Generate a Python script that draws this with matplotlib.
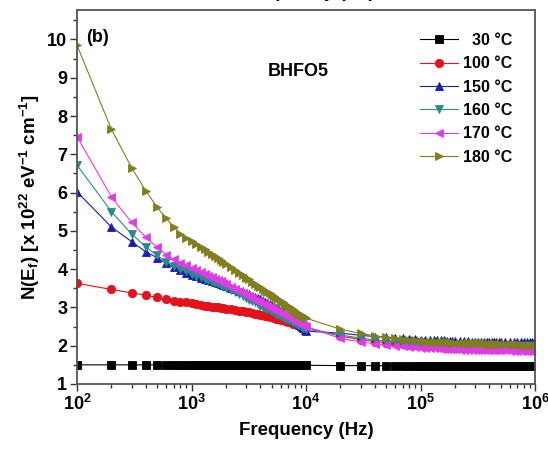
import matplotlib
matplotlib.use("Agg")
import matplotlib.pyplot as plt
import numpy as np
from matplotlib.ticker import FixedLocator, MultipleLocator, LogLocator, NullFormatter

plt.rcParams["font.family"] = ["Liberation Sans", "DejaVu Sans"]
plt.rcParams["font.weight"] = "bold"
plt.rcParams["mathtext.fontset"] = "custom"
plt.rcParams["mathtext.rm"] = "Liberation Sans:bold"
plt.rcParams["mathtext.bf"] = "Liberation Sans:bold"
plt.rcParams["mathtext.it"] = "Liberation Sans:bold:italic"
plt.rcParams["mathtext.default"] = "bf"

# frequency sweep (Hz)
freq_low = [100, 200, 300, 400, 500, 600, 700, 800, 900, 1000,
            1100, 1200, 1300, 1400, 1500, 1600, 1700, 1800, 1900, 2000,
            2200, 2400, 2600, 2800, 3000, 3200, 3400, 3600, 3800, 4000,
            4200, 4400, 4600, 4800, 5000,
            5250, 5500, 5750, 6000, 6250, 6500, 6750, 7000, 7250, 7500,
            7750, 8000, 8250, 8500, 8750, 9000, 9250, 9500, 9750, 10000]
freq_high = [20000, 30000, 40000, 50000, 60000, 70000, 80000, 90000, 100000,
             110000, 120000, 130000, 140000, 150000, 160000, 170000, 180000, 190000, 200000,
             220000, 240000, 260000, 280000, 300000, 320000, 340000, 360000,
             380000, 400000, 420000, 440000, 460000, 480000, 500000,
             550000, 600000, 650000, 700000, 750000, 800000, 850000, 900000,
             950000, 1000000]

# N(Ef) in units of 1e22 eV^-1 cm^-1
n30_low = [1.50] * 10 + [1.49] * 45
n30_high = [1.48] * 44

n100_low = [3.63, 3.47, 3.38, 3.32, 3.26, 3.21, 3.18, 3.15, 3.13, 3.11,
            3.09, 3.07, 3.05, 3.04, 3.02, 3.01, 3.00, 2.99, 2.98, 2.97,
            2.95, 2.93, 2.91, 2.90, 2.88, 2.87, 2.85, 2.84, 2.82, 2.81,
            2.80, 2.78, 2.77, 2.76, 2.74,
            2.73, 2.71, 2.70, 2.68, 2.67, 2.65, 2.64, 2.62, 2.61, 2.60,
            2.58, 2.57, 2.56, 2.55, 2.53, 2.52, 2.51, 2.50, 2.49, 2.48]
n100_high = [2.25, 2.16, 2.11, 2.08, 2.06, 2.04, 2.03, 2.02, 2.01,
             2.00, 2.00, 1.99, 1.99, 1.99, 1.98, 1.98, 1.98, 1.97, 1.97,
             1.97, 1.96, 1.96, 1.96, 1.96, 1.95, 1.95, 1.95, 1.95, 1.95,
             1.94, 1.94, 1.94, 1.94, 1.94,
             1.94, 1.94, 1.93, 1.93, 1.93, 1.93, 1.93, 1.93, 1.93, 1.93]

n150_low = [6.02, 5.10, 4.72, 4.45, 4.30, 4.15, 4.05, 3.97, 3.91, 3.86,
            3.82, 3.78, 3.75, 3.72, 3.69, 3.66, 3.63, 3.61, 3.58, 3.56,
            3.52, 3.48, 3.44, 3.41, 3.38, 3.34, 3.31, 3.28, 3.24, 3.21,
            3.18, 3.14, 3.11, 3.08, 3.05,
            3.02, 2.98, 2.95, 2.91, 2.88, 2.84, 2.81, 2.78, 2.75, 2.71,
            2.68, 2.65, 2.62, 2.59, 2.55, 2.52, 2.48, 2.45, 2.41, 2.38]
n150_high = [2.33, 2.27, 2.24, 2.22, 2.20, 2.19, 2.18, 2.17, 2.16,
             2.16, 2.15, 2.15, 2.14, 2.14, 2.14, 2.13, 2.13, 2.13, 2.12,
             2.12, 2.12, 2.12, 2.11, 2.11, 2.11, 2.11, 2.11, 2.10, 2.10,
             2.10, 2.10, 2.10, 2.10, 2.10,
             2.10, 2.09, 2.09, 2.09, 2.09, 2.09, 2.09, 2.09, 2.09, 2.09]

n160_low = [6.72, 5.50, 4.92, 4.58, 4.36, 4.20, 4.09, 4.01, 3.94, 3.88,
            3.83, 3.79, 3.75, 3.71, 3.67, 3.64, 3.61, 3.58, 3.55, 3.52,
            3.46, 3.40, 3.34, 3.29, 3.25, 3.20, 3.16, 3.13, 3.09, 3.05,
            3.02, 2.99, 2.96, 2.93, 2.91,
            2.87, 2.84, 2.81, 2.78, 2.76, 2.73, 2.70, 2.68, 2.66, 2.63,
            2.61, 2.59, 2.57, 2.55, 2.53, 2.51, 2.49, 2.47, 2.46, 2.44]
n160_high = [2.28, 2.20, 2.15, 2.12, 2.10, 2.08, 2.07, 2.06, 2.05,
             2.04, 2.04, 2.03, 2.03, 2.02, 2.02, 2.02, 2.01, 2.01, 2.01,
             2.01, 2.00, 2.00, 2.00, 2.00, 2.00, 1.99, 1.99, 1.99, 1.99,
             1.99, 1.99, 1.99, 1.99, 1.99,
             1.98, 1.98, 1.98, 1.98, 1.98, 1.98, 1.98, 1.98, 1.98, 1.98]

n170_low = [7.46, 5.89, 5.22, 4.83, 4.57, 4.38, 4.26, 4.17, 4.10, 4.04,
            3.98, 3.93, 3.88, 3.83, 3.79, 3.75, 3.71, 3.68, 3.64, 3.61,
            3.54, 3.48, 3.43, 3.38, 3.33, 3.29, 3.24, 3.20, 3.17, 3.13,
            3.10, 3.07, 3.03, 3.01, 2.98,
            2.94, 2.91, 2.88, 2.85, 2.82, 2.80, 2.77, 2.74, 2.72, 2.70,
            2.67, 2.65, 2.63, 2.61, 2.59, 2.57, 2.55, 2.53, 2.52, 2.50]
n170_high = [2.19, 2.10, 2.05, 2.02, 2.00, 1.98, 1.97, 1.96, 1.95,
             1.94, 1.94, 1.93, 1.93, 1.92, 1.92, 1.92, 1.91, 1.91, 1.91,
             1.90, 1.90, 1.90, 1.90, 1.89, 1.89, 1.89, 1.89, 1.89, 1.88,
             1.88, 1.88, 1.88, 1.88, 1.88,
             1.88, 1.87, 1.87, 1.87, 1.87, 1.87, 1.87, 1.87, 1.87, 1.87]

n180_low = [9.85, 7.65, 6.65, 6.04, 5.62, 5.33, 5.10, 4.93, 4.82, 4.74,
            4.66, 4.59, 4.52, 4.45, 4.39, 4.34, 4.28, 4.23, 4.18, 4.14,
            4.06, 3.98, 3.91, 3.84, 3.78, 3.73, 3.67, 3.62, 3.57, 3.53,
            3.49, 3.44, 3.41, 3.37, 3.33,
            3.29, 3.25, 3.21, 3.17, 3.14, 3.10, 3.07, 3.04, 3.00, 2.97,
            2.95, 2.92, 2.89, 2.86, 2.84, 2.81, 2.79, 2.77, 2.74, 2.72]
n180_high = [2.43, 2.32, 2.26, 2.22, 2.19, 2.17, 2.15, 2.14, 2.13,
             2.12, 2.11, 2.11, 2.10, 2.10, 2.09, 2.09, 2.09, 2.08, 2.08,
             2.08, 2.07, 2.07, 2.07, 2.06, 2.06, 2.06, 2.06, 2.05, 2.05,
             2.05, 2.05, 2.05, 2.04, 2.04,
             2.04, 2.04, 2.04, 2.04, 2.03, 2.03, 2.03, 2.03, 2.03, 2.03]

labels = ["  30 \u00b0C", "100 \u00b0C", "150 \u00b0C", "160 \u00b0C", "170 \u00b0C", "180 \u00b0C"]
series = [n30_low + n30_high, n100_low + n100_high, n150_low + n150_high,
          n160_low + n160_high, n170_low + n170_high, n180_low + n180_high]
colors = ["#000000", "#e3121b", "#1a1ab0", "#2b8b8c", "#e03be6", "#7f7f1e"]
markers = ["s", "o", "^", "v", "<", ">"]

freq = np.array(freq_low + freq_high)

fig = plt.figure(figsize=(5.48, 4.59), dpi=100)
ax = fig.add_axes([77 / 548, 1 - 384 / 459, (535 - 77) / 548, (384 - 10) / 459])

for y, c, m, lab in zip(series, colors, markers, labels):
    ax.plot(freq, y, color=c, marker=m, markersize=6, linewidth=0.8,
            markeredgewidth=0.6, label=lab)

ax.set_xscale("log")
ax.set_xlim(1e2, 1e6)
ax.set_ylim(1, 10.77)

ax.xaxis.set_major_locator(FixedLocator([1e2, 1e3, 1e4, 1e5, 1e6]))
ax.set_xticklabels([r"$10^{2}$", r"$10^{3}$", r"$10^{4}$", r"$10^{5}$", r"$10^{6}$"])
ax.xaxis.set_minor_locator(LogLocator(base=10, subs=np.arange(2, 10), numticks=20))
ax.xaxis.set_minor_formatter(NullFormatter())
ax.yaxis.set_major_locator(MultipleLocator(1))
ax.yaxis.set_minor_locator(MultipleLocator(0.5))

ax.tick_params(which="both", direction="out", top=False, right=False,
               colors="#333333", labelcolor="black", width=1.0)
ax.tick_params(which="major", length=5, labelsize=13, pad=2)
ax.tick_params(which="minor", length=3)
for sp in ax.spines.values():
    sp.set_color("#555555")
    sp.set_linewidth(1.3)

ax.set_xlabel("Frequency (Hz)", fontsize=13.5, fontweight="bold", labelpad=6)
ax.set_ylabel(r"N(E$_f$) [x 10$^{22}$ eV$^{-1}$ cm$^{-1}$]", fontsize=13.5,
              fontweight="bold", labelpad=4)

fig.text(86 / 548, 1 - 37 / 459, "(b)", fontsize=13, fontweight="bold",
         va="center", ha="left")
fig.text(268 / 548, 1 - 72 / 459, "BHFO5", fontsize=13,
         fontweight="bold", ha="left", va="center")

# title of the panel above, cut off at the top edge as in the source figure
fig.text(307 / 548, 1 + 3 / 459, "Frequency (Hz)", fontsize=13.5,
         fontweight="bold", ha="center", va="baseline")

ax.legend(loc="upper left", bbox_to_anchor=(420 / 548, 1 - 33 / 459),
          bbox_transform=fig.transFigure, frameon=False, fontsize=11.5,
          borderpad=0, borderaxespad=0, handlelength=2.4, handletextpad=0.3,
          labelspacing=0.52, markerscale=1.0)

fig.savefig("out.png", dpi=100, facecolor="white")
